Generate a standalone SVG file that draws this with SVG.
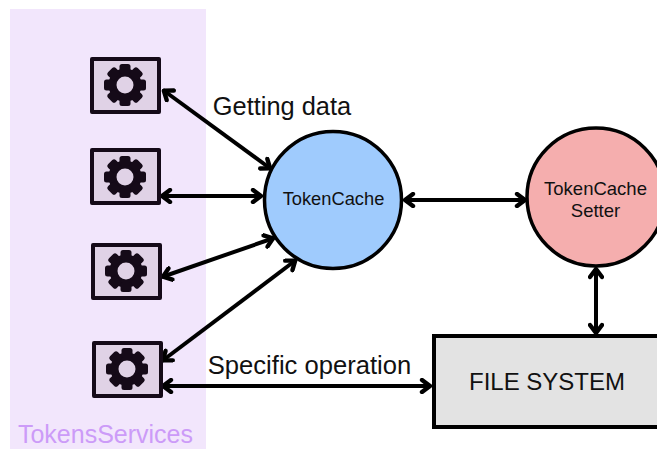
<svg xmlns="http://www.w3.org/2000/svg" width="657" height="449" viewBox="0 0 657 449">
<style>
text{font-family:"Liberation Sans",Arial,sans-serif;fill:#111;text-anchor:middle}
text.band{fill:#cc9bf8}
.icon{fill:#e0d2e6;stroke:#150a18;stroke-width:4;stroke-linejoin:round}
.conn{fill:none;stroke:#000;stroke-width:4}
</style>
<defs>
<g id="gear">
<circle r="12.5" fill="none" stroke="#150a18" stroke-width="8"/>
<g fill="#150a18">
<rect x="-5.5" y="-21" width="11" height="10" rx="2.5"/>
<rect x="-5.5" y="-21" width="11" height="10" rx="2.5" transform="rotate(45)"/>
<rect x="-5.5" y="-21" width="11" height="10" rx="2.5" transform="rotate(90)"/>
<rect x="-5.5" y="-21" width="11" height="10" rx="2.5" transform="rotate(135)"/>
<rect x="-5.5" y="-21" width="11" height="10" rx="2.5" transform="rotate(180)"/>
<rect x="-5.5" y="-21" width="11" height="10" rx="2.5" transform="rotate(225)"/>
<rect x="-5.5" y="-21" width="11" height="10" rx="2.5" transform="rotate(270)"/>
<rect x="-5.5" y="-21" width="11" height="10" rx="2.5" transform="rotate(315)"/>
</g>
</g>
<marker id="ah" viewBox="0 0 14 16" markerWidth="14" markerHeight="16" refX="13" refY="8" orient="auto-start-reverse" markerUnits="userSpaceOnUse">
<path d="M4 2L12 8L4 14" fill="none" stroke="#000" stroke-width="4.4" stroke-linecap="round" stroke-linejoin="round"/>
</marker>
</defs>
<rect id="tokens-services-band" x="10" y="9" width="196" height="440" fill="#f2e6fc"/>
<g id="connectors" class="conn">
<line x1="163" y1="90" x2="271" y2="169" marker-start="url(#ah)" marker-end="url(#ah)"/>
<line x1="161" y1="196" x2="262" y2="196" marker-start="url(#ah)" marker-end="url(#ah)"/>
<line x1="162" y1="277" x2="274" y2="238" marker-start="url(#ah)" marker-end="url(#ah)"/>
<line x1="162" y1="361" x2="296" y2="260" marker-start="url(#ah)" marker-end="url(#ah)"/>
<line x1="162" y1="386" x2="431" y2="386" marker-start="url(#ah)" marker-end="url(#ah)"/>
<line x1="404" y1="200" x2="526" y2="200" marker-start="url(#ah)" marker-end="url(#ah)"/>
<line x1="596" y1="268" x2="596" y2="334" marker-start="url(#ah)" marker-end="url(#ah)"/>
</g>
<g id="service-1"><rect class="icon" x="92" y="59" width="67" height="53"/><use href="#gear" x="125" y="85"/></g>
<g id="service-2"><rect class="icon" x="92" y="150" width="67" height="53"/><use href="#gear" x="125" y="177"/></g>
<g id="service-3"><rect class="icon" x="93" y="245" width="67" height="53"/><use href="#gear" x="126" y="271"/></g>
<g id="service-4"><rect class="icon" x="94" y="343" width="67" height="53"/><use href="#gear" x="127" y="369"/></g>
<g id="token-cache"><circle cx="333" cy="200" r="68.5" fill="#9fcbfd" stroke="#000" stroke-width="3.500"/><text x="333.500" y="205" font-size="18.300">TokenCache</text></g>
<g id="token-cache-setter"><circle cx="596" cy="197" r="69" fill="#f5aeae" stroke="#000" stroke-width="3.500"/><text x="595.500" y="195" font-size="18.500">TokenCache</text><text x="595.500" y="217" font-size="18.500">Setter</text></g>
<g id="file-system"><rect x="434" y="336" width="240" height="91" fill="#e3e3e3" stroke="#000" stroke-width="4"/><text x="547" y="390" font-size="24">FILE SYSTEM</text></g>
<text x="282" y="115" font-size="25.400">Getting data</text>
<text x="309.500" y="374" font-size="25.600">Specific operation</text>
<text class="band" x="105.500" y="443" font-size="25">TokensServices</text>
</svg>
